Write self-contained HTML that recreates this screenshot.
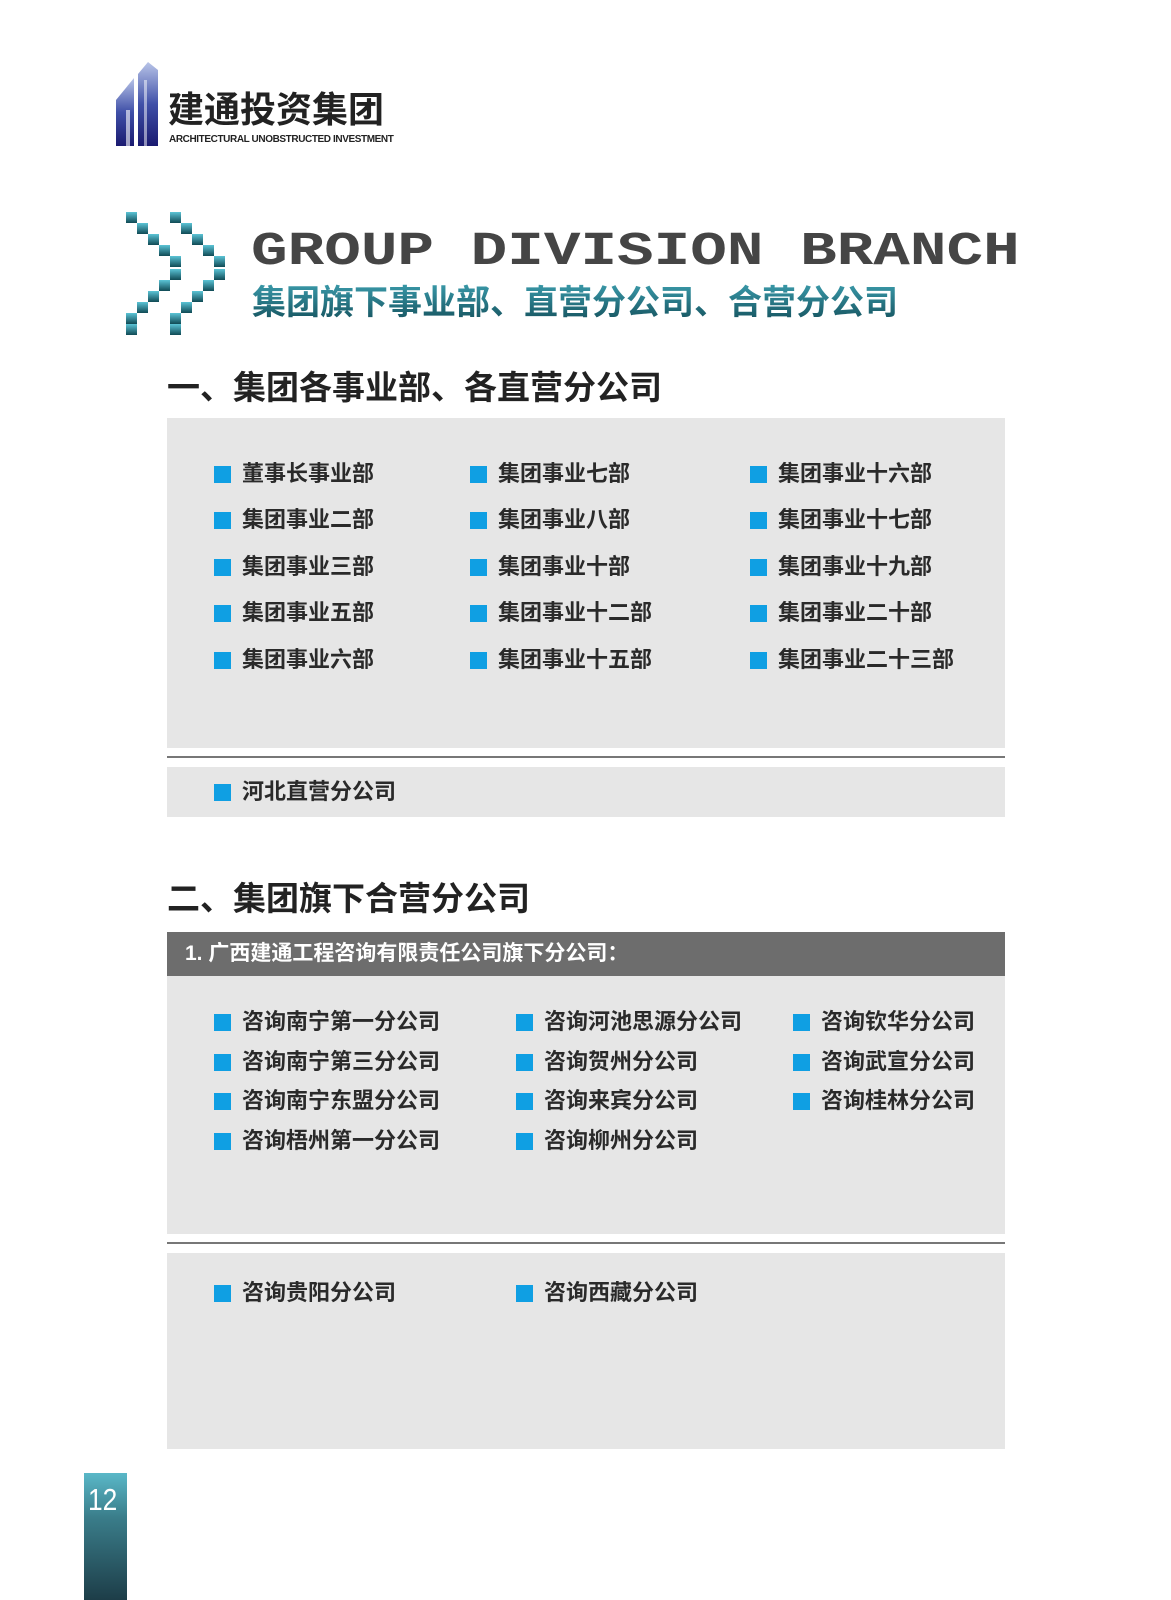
<!DOCTYPE html>
<html><head><meta charset="utf-8">
<style>
body{margin:0;width:1171px;height:1600px;background:#fff;position:relative;overflow:hidden;font-family:"Liberation Sans","Noto Sans CJK SC",sans-serif;}
.a{position:absolute;}
.box{position:absolute;left:167px;width:838px;background:#e6e6e6;}
.line{position:absolute;left:167px;width:838px;height:2px;background:#777;}
.it{position:absolute;font-size:22px;font-weight:bold;color:#2a2a2a;line-height:24px;white-space:nowrap;}
.it:before{content:"";display:inline-block;width:17px;height:17px;background:#0f9fe3;margin-right:11px;vertical-align:-2px;}
.h{position:absolute;left:167px;font-size:33px;font-weight:bold;color:#222;line-height:36px;white-space:nowrap;}
</style></head><body>
<svg class="a" style="left:114px;top:60px" width="50" height="88">
<defs><linearGradient id="lg" x1="0" y1="0" x2="0" y2="1"><stop offset="0" stop-color="#b8c4e8"/><stop offset="0.5" stop-color="#4050a8"/><stop offset="1" stop-color="#1a1a70"/></linearGradient></defs>
<polygon points="2,86 2,40 20,18 20,86" fill="url(#lg)"/>
<polygon points="24,86 24,14 34,2 44,10 44,86" fill="url(#lg)"/>
<rect x="12" y="50" width="4" height="36" fill="#fff" opacity=".6"/>
<rect x="30" y="20" width="3" height="66" fill="#fff" opacity=".5"/>
</svg>
<div class="a" style="left:168px;top:90px;font-size:36px;font-weight:bold;color:#222;line-height:40px">建通投资集团</div>
<div class="a" style="left:169px;top:134px;font-size:10px;font-weight:bold;color:#222;letter-spacing:-0.4px;white-space:nowrap">ARCHITECTURAL UNOBSTRUCTED INVESTMENT</div>
<svg class="a" style="left:126px;top:212px" width="100" height="134">
<defs><linearGradient id="cg" x1="0" y1="0" x2="0" y2="1"><stop offset="0" stop-color="#5bc4d6"/><stop offset="1" stop-color="#104a55"/></linearGradient></defs>
<g fill="url(#cg)">
<rect x="0" y="0" width="11" height="11"/><rect x="11" y="11" width="11" height="11"/><rect x="22" y="22" width="11" height="11"/><rect x="33" y="33" width="11" height="11"/><rect x="44" y="44" width="11" height="11"/><rect x="44" y="57" width="11" height="11"/><rect x="33" y="68" width="11" height="11"/><rect x="22" y="79" width="11" height="11"/><rect x="11" y="90" width="11" height="11"/><rect x="0" y="101" width="11" height="11"/><rect x="0" y="112" width="11" height="11"/>
<rect x="44" y="0" width="11" height="11"/><rect x="55" y="11" width="11" height="11"/><rect x="66" y="22" width="11" height="11"/><rect x="77" y="33" width="11" height="11"/><rect x="88" y="44" width="11" height="11"/><rect x="88" y="57" width="11" height="11"/><rect x="77" y="68" width="11" height="11"/><rect x="66" y="79" width="11" height="11"/><rect x="55" y="90" width="11" height="11"/><rect x="44" y="101" width="11" height="11"/><rect x="44" y="112" width="11" height="11"/>
</g></svg>
<div class="a" style="left:251px;top:229px;font-family:'Liberation Mono',monospace;font-weight:bold;font-size:61px;line-height:60px;color:#454545;transform:scaleY(0.78);transform-origin:top left;white-space:nowrap">GROUP DIVISION BRANCH</div>
<div class="a" style="left:252px;top:283px;font-size:34px;font-weight:bold;line-height:40px;white-space:nowrap;background:linear-gradient(#3a9aaa,#14505c);-webkit-background-clip:text;color:transparent">集团旗下事业部、直营分公司、合营分公司</div>
<div class="h" style="top:370px">一、集团各事业部、各直营分公司</div>
<div class="box" style="top:418px;height:330px"></div>
<div class="it" style="left:214px;top:462px">董事长事业部</div>
<div class="it" style="left:214px;top:508px">集团事业二部</div>
<div class="it" style="left:214px;top:555px">集团事业三部</div>
<div class="it" style="left:214px;top:601px">集团事业五部</div>
<div class="it" style="left:214px;top:648px">集团事业六部</div>
<div class="it" style="left:470px;top:462px">集团事业七部</div>
<div class="it" style="left:470px;top:508px">集团事业八部</div>
<div class="it" style="left:470px;top:555px">集团事业十部</div>
<div class="it" style="left:470px;top:601px">集团事业十二部</div>
<div class="it" style="left:470px;top:648px">集团事业十五部</div>
<div class="it" style="left:750px;top:462px">集团事业十六部</div>
<div class="it" style="left:750px;top:508px">集团事业十七部</div>
<div class="it" style="left:750px;top:555px">集团事业十九部</div>
<div class="it" style="left:750px;top:601px">集团事业二十部</div>
<div class="it" style="left:750px;top:648px">集团事业二十三部</div>
<div class="line" style="top:756px"></div>
<div class="box" style="top:767px;height:50px"></div>
<div class="it" style="left:214px;top:780px">河北直营分公司</div>
<div class="h" style="top:881px">二、集团旗下合营分公司</div>
<div class="a" style="left:167px;top:932px;width:838px;height:44px;background:#6d6d6d"></div>
<div class="a" style="left:185px;top:940px;font-size:21px;font-weight:bold;color:#fff;line-height:28px;white-space:nowrap">1. 广西建通工程咨询有限责任公司旗下分公司：</div>
<div class="box" style="top:976px;height:258px"></div>
<div class="it" style="left:214px;top:1010px">咨询南宁第一分公司</div>
<div class="it" style="left:214px;top:1050px">咨询南宁第三分公司</div>
<div class="it" style="left:214px;top:1089px">咨询南宁东盟分公司</div>
<div class="it" style="left:214px;top:1129px">咨询梧州第一分公司</div>
<div class="it" style="left:516px;top:1010px">咨询河池思源分公司</div>
<div class="it" style="left:516px;top:1050px">咨询贺州分公司</div>
<div class="it" style="left:516px;top:1089px">咨询来宾分公司</div>
<div class="it" style="left:516px;top:1129px">咨询柳州分公司</div>
<div class="it" style="left:793px;top:1010px">咨询钦华分公司</div>
<div class="it" style="left:793px;top:1050px">咨询武宣分公司</div>
<div class="it" style="left:793px;top:1089px">咨询桂林分公司</div>
<div class="line" style="top:1242px"></div>
<div class="box" style="top:1253px;height:196px"></div>
<div class="it" style="left:214px;top:1281px">咨询贵阳分公司</div>
<div class="it" style="left:516px;top:1281px">咨询西藏分公司</div>
<div class="a" style="left:84px;top:1473px;width:43px;height:127px;background:linear-gradient(#5ab8c8,#3a7d8a 35%,#1d3d48)"></div>
<div class="a" style="left:88px;top:1482px;font-size:31px;color:#fff;line-height:36px;transform:scaleX(0.85);transform-origin:left">12</div>
</body></html>
